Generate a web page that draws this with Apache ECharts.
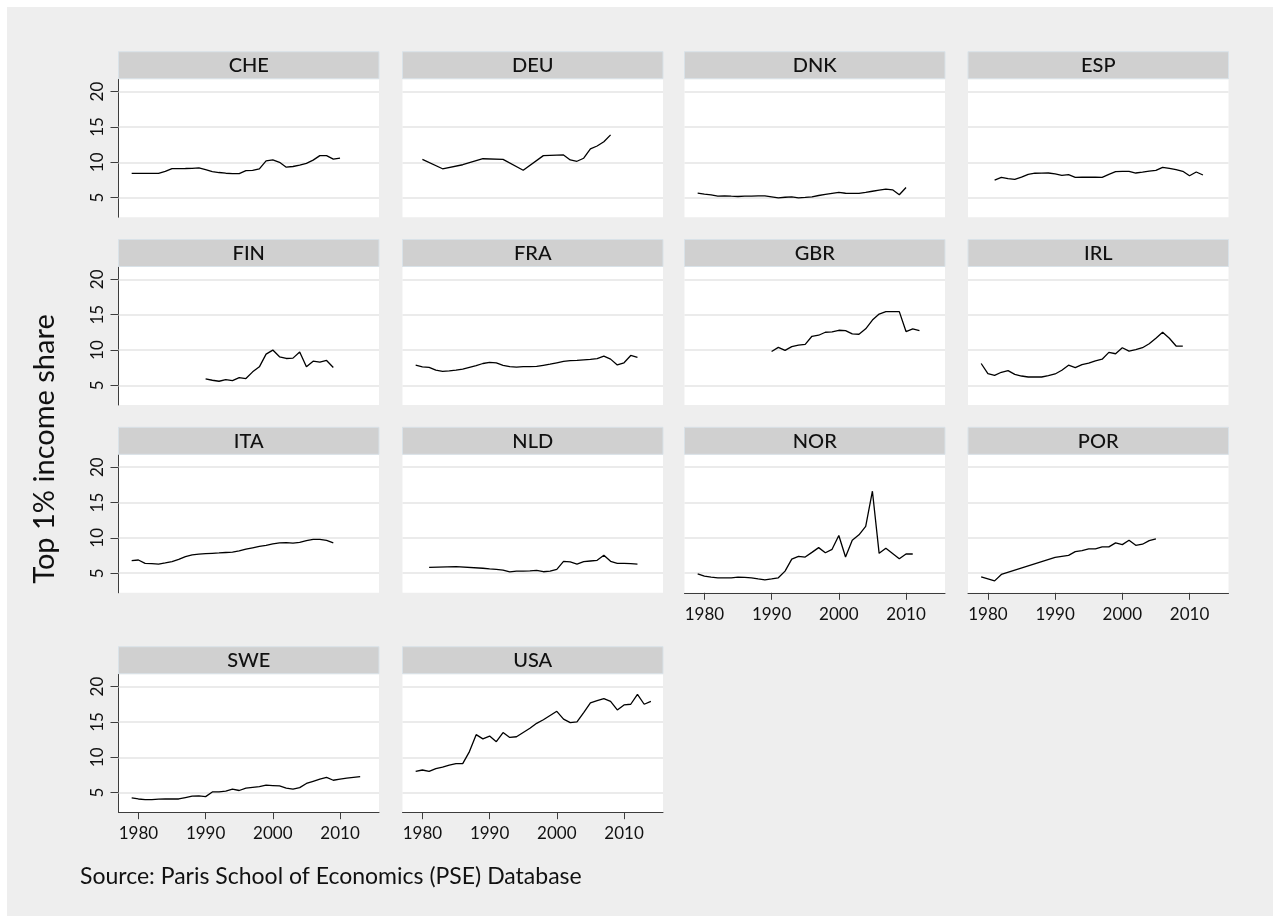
<!DOCTYPE html>
<html>
<head>
<meta charset="utf-8">
<script src="https://cdn.jsdelivr.net/npm/echarts@6/dist/echarts.min.js"></script>
<style>
html,body{margin:0;padding:0;background:#ffffff;}
#chart{width:1280px;height:923px;}
</style>
</head>
<body>
<div id="chart"></div>
<script>
// ---- data (top 1% income share, %) ----
const countries = ['CHE','DEU','DNK','ESP','FIN','FRA','GBR','IRL','ITA','NLD','NOR','POR','SWE','USA'];

function span(a, b){ const r=[]; for(let y=a;y<=b;y++) r.push(y); return r; }

const CHE_years = span(1979, 2010);
const CHE_share = [8.44,8.44,8.44,8.44,8.44,8.7,9.1,9.1,9.12,9.15,9.2,8.95,8.68,8.55,8.45,8.4,8.4,8.82,8.85,9.06,10.2,10.33,10.0,9.3,9.4,9.6,9.85,10.3,10.94,10.94,10.45,10.6];

const DEU_years = [1980,1983,1986,1989,1992,1995,1998,2001,2002,2003,2004,2005,2006,2007,2008];
const DEU_share = [10.42,9.08,9.65,10.5,10.4,8.87,10.94,11.04,10.33,10.14,10.57,11.9,12.3,12.9,13.87];

const DNK_years = span(1979, 2010);
const DNK_share = [5.63,5.5,5.4,5.2,5.25,5.2,5.16,5.22,5.2,5.25,5.25,5.1,4.95,5.05,5.1,4.97,5.03,5.1,5.3,5.45,5.6,5.73,5.62,5.59,5.6,5.73,5.9,6.05,6.2,6.1,5.4,6.44];

const ESP_years = span(1981, 2012);
const ESP_share = [7.48,7.86,7.7,7.58,7.9,8.3,8.45,8.46,8.48,8.35,8.15,8.24,7.85,7.9,7.88,7.88,7.86,8.3,8.67,8.72,8.72,8.48,8.6,8.75,8.86,9.29,9.15,8.95,8.72,8.1,8.62,8.2];

const FIN_years = span(1990, 2009);
const FIN_share = [5.92,5.73,5.59,5.82,5.68,6.1,5.97,6.92,7.63,9.43,10.0,9.05,8.81,8.86,9.72,7.63,8.43,8.29,8.53,7.53];

const FRA_years = span(1979, 2012);
const FRA_share = [7.86,7.63,7.55,7.15,6.98,7.05,7.15,7.3,7.55,7.8,8.1,8.27,8.2,7.85,7.65,7.6,7.67,7.67,7.7,7.85,8.0,8.2,8.4,8.5,8.53,8.6,8.67,8.8,9.15,8.72,7.9,8.2,9.24,8.96];

const GBR_years = span(1990, 2012);
const GBR_share = [9.8,10.38,9.95,10.48,10.71,10.81,11.95,12.1,12.52,12.57,12.8,12.76,12.29,12.24,13.0,14.24,15.1,15.44,15.44,15.44,12.62,13.0,12.76];

const IRL_years = span(1979, 2009);
const IRL_share = [8.1,6.67,6.43,6.86,7.1,6.57,6.33,6.19,6.19,6.19,6.38,6.62,7.14,7.86,7.52,7.95,8.14,8.48,8.71,9.67,9.48,10.33,9.86,10.05,10.33,10.9,11.67,12.52,11.67,10.57,10.57];

const ITA_years = span(1979, 2009);
const ITA_share = [6.78,6.87,6.4,6.35,6.3,6.45,6.65,6.95,7.35,7.6,7.7,7.77,7.82,7.87,7.93,7.98,8.15,8.4,8.6,8.8,8.95,9.15,9.29,9.32,9.25,9.35,9.6,9.78,9.8,9.65,9.3];

const NLD_years = [1981,1985].concat(span(1989, 2012));
const NLD_share = [5.83,5.92,5.7,5.62,5.55,5.45,5.2,5.3,5.31,5.33,5.4,5.21,5.31,5.55,6.68,6.59,6.3,6.64,6.73,6.82,7.54,6.68,6.4,6.4,6.35,6.3];

const NOR_years = span(1979, 2011);
const NOR_share = [4.92,4.58,4.45,4.35,4.35,4.35,4.44,4.4,4.35,4.2,4.06,4.2,4.35,5.3,7.0,7.39,7.29,7.95,8.62,7.9,8.38,10.33,7.29,9.67,10.43,11.62,16.6,7.81,8.53,7.8,7.05,7.72,7.72];

const POR_years = [1979,1981,1982].concat(span(1990, 2005));
const POR_share = [4.49,3.92,4.82,7.24,7.39,7.53,8.05,8.2,8.43,8.43,8.72,8.72,9.29,9.05,9.67,8.95,9.1,9.62,9.86];

const SWE_years = span(1979, 2013);
const SWE_share = [4.25,4.1,4.0,4.0,4.08,4.1,4.1,4.1,4.3,4.5,4.55,4.43,5.1,5.1,5.2,5.5,5.3,5.65,5.75,5.85,6.05,6.0,5.95,5.65,5.5,5.7,6.3,6.6,6.9,7.15,6.75,6.9,7.05,7.15,7.25];

const USA_years = span(1979, 2014);
const USA_share = [8.0,8.2,8.0,8.4,8.6,8.9,9.1,9.1,10.8,13.2,12.6,13.0,12.2,13.5,12.8,12.9,13.5,14.1,14.8,15.3,15.9,16.5,15.4,14.9,15.0,16.3,17.7,18.0,18.3,17.9,16.7,17.4,17.5,18.9,17.5,17.9];

const yTicks = [5, 10, 15, 20];
const xTicks = [1980, 1990, 2000, 2010];

const dataByCountry = {
  CHE:[CHE_years,CHE_share], DEU:[DEU_years,DEU_share], DNK:[DNK_years,DNK_share], ESP:[ESP_years,ESP_share],
  FIN:[FIN_years,FIN_share], FRA:[FRA_years,FRA_share], GBR:[GBR_years,GBR_share], IRL:[IRL_years,IRL_share],
  ITA:[ITA_years,ITA_share], NLD:[NLD_years,NLD_share], NOR:[NOR_years,NOR_share], POR:[POR_years,POR_share],
  SWE:[SWE_years,SWE_share], USA:[USA_years,USA_share]
};

// ---- layout ----
const FONT = 'Lato, "Open Sans", sans-serif';
const colLeft = [118.5, 402.5, 684.5, 968];
const panelW = 260.5;
const rowTop = [51.7, 239.5, 427.3, 646.7];
const headH = 27.5;
const plotH = 138;
const xMin = 1977.04, xMax = 2015.8;
const yMin = 2.23, yMax = 21.75;
const bottomPanels = ['NOR','POR','SWE','USA'];

const grids = [], xAxes = [], yAxes = [], series = [], graphics = [];

graphics.push({type:'rect', shape:{x:7,y:7,width:1266,height:909}, style:{fill:'#eeeeee'}, z:-10, silent:true});

countries.forEach((c, i) => {
  const row = Math.floor(i / 4), col = i % 4;
  const left = colLeft[col], top = rowTop[row] + headH;
  grids.push({left:left, top:top, width:panelW, height:plotH, show:true, backgroundColor:'#ffffff', borderWidth:0, containLabel:false});
  graphics.push({type:'rect', shape:{x:left, y:rowTop[row], width:panelW, height:headH-0.5},
    style:{fill:'#d0d0d0', stroke:'#d9e2e8', lineWidth:1}, z:5, silent:true});
  graphics.push({type:'text', x:left+panelW/2, y:rowTop[row]+headH/2+0.5, z:6, silent:true,
    style:{text:c, fill:'#111111', font:'500 20px ' + FONT, align:'center', verticalAlign:'middle'}});

  const showX = bottomPanels.indexOf(c) >= 0;
  const showY = col === 0;
  xAxes.push({
    type:'value', gridIndex:i, min:xMin, max:xMax, position:'bottom',
    splitLine:{show:false},
    axisLine:{show:showX, onZero:false, lineStyle:{color:'#3c3c3c', width:1}},
    axisTick:{show:showX, length:7, customValues:xTicks, lineStyle:{color:'#3c3c3c', width:1}},
    axisLabel:{show:showX, customValues:xTicks, margin:13, fontSize:17, fontFamily:FONT, color:'#111111',
      formatter:(v) => String(Math.round(v))}
  });
  yAxes.push({
    type:'value', gridIndex:i, min:yMin, max:yMax, position:'left',
    splitLine:{show:false},
    axisLine:{show:showY, lineStyle:{color:'#3c3c3c', width:1}},
    axisTick:{show:showY, length:8, customValues:yTicks, lineStyle:{color:'#3c3c3c', width:1}},
    axisLabel:{show:showY, customValues:yTicks, rotate:90, margin:12, fontSize:17, fontFamily:FONT, color:'#111111',
      formatter:(v) => String(Math.round(v))}
  });
  const yrs = dataByCountry[c][0], vals = dataByCountry[c][1];
  series.push({
    type:'line', name:c, xAxisIndex:i, yAxisIndex:i, z:3,
    data: yrs.map((y, k) => [y, vals[k]]),
    showSymbol:false, symbol:'none', animation:false, silent:true,
    lineStyle:{color:'#000000', width:1.3},
    markLine:{silent:true, symbol:'none', animation:false, z:1,
      label:{show:false}, emphasis:{disabled:true},
      lineStyle:{color:'#e4e4e4', width:1.6, type:'solid'},
      data: yTicks.map(v => ({yAxis:v}))}
  });
});

graphics.push({type:'text', x:45, y:449, rotation:Math.PI/2, z:6, silent:true,
  style:{text:'Top 1% income share', fill:'#111111', font:'29px ' + FONT, align:'center', verticalAlign:'middle'}});
graphics.push({type:'text', x:80, y:877, z:6, silent:true,
  style:{text:'Source: Paris School of Economics (PSE) Database', fill:'#111111', font:'23px ' + FONT, align:'left', verticalAlign:'middle'}});

const chart = echarts.init(document.getElementById('chart'), null, {renderer:'canvas'});
chart.setOption({
  animation:false,
  backgroundColor:'#ffffff',
  grid:grids, xAxis:xAxes, yAxis:yAxes, series:series, graphic:graphics
});
</script>
</body>
</html>
